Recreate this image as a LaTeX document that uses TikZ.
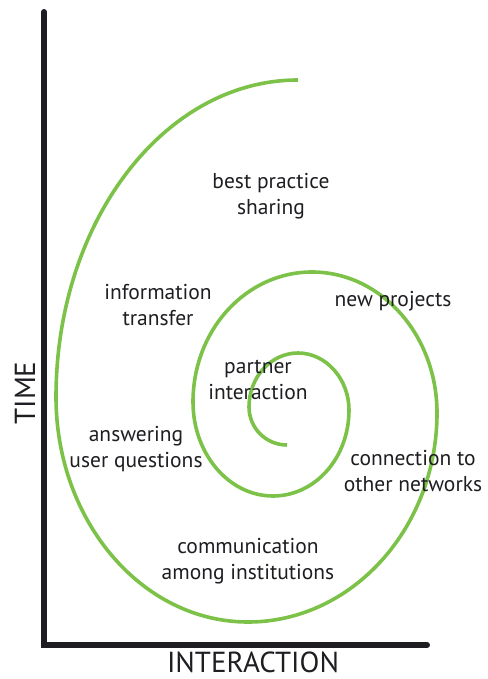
\documentclass[tikz,border=0pt]{standalone}
\usepackage{fontspec}
\setmainfont{PT Sans}
\definecolor{spiralgreen}{RGB}{124,194,72}
\definecolor{axisblack}{RGB}{30,30,34}
\begin{document}
\begin{tikzpicture}[x=1pt,y=-1pt,
  axisline/.style={line width=6pt,color=axisblack,line cap=round},
  spiralline/.style={line width=3.6pt,color=spiralgreen},
  lbl/.style={font=\fontsize{21.5}{26}\selectfont,align=center,text=axisblack,inner sep=0pt},
  axlbl/.style={font=\fontsize{29}{32}\selectfont,text=axisblack,inner sep=0pt}]
\useasboundingbox (0,0) rectangle (487,679);
% axes
\coordinate (top) at (44,12);
\coordinate (origin) at (44,645);
\coordinate (right) at (427,645);
\draw[axisline] (top) -- (origin) -- (right);
% spiral
\coordinate (s0) at (298,80);
\coordinate (s1) at (56,397);
\coordinate (s2) at (248,622);
\coordinate (s3) at (437,413);
\coordinate (s4) at (312,272);
\coordinate (s5) at (193,402);
\coordinate (s6) at (273,496);
\coordinate (s7) at (349,410);
\coordinate (s8) at (298,353);
\coordinate (s9) at (249,407);
\coordinate (s10) at (287,445);
\draw[spiralline] (s0)
  .. controls (164,80) and (56,222) .. (s1)
  .. controls (56,521) and (142,622) .. (s2)
  .. controls (352,622) and (437,528) .. (s3)
  .. controls (437,335) and (381,272) .. (s4)
  .. controls (246,272) and (193,330) .. (s5)
  .. controls (193,454) and (229,496) .. (s6)
  .. controls (315,496) and (349,458) .. (s7)
  .. controls (349,379) and (326,353) .. (s8)
  .. controls (271,353) and (249,377) .. (s9)
  .. controls (249,428) and (266,445) .. (s10);
% labels
\node[lbl] (best) at (271,196) {best practice\\sharing};
\node[lbl] (info) at (158,305) {information\\transfer};
\node[lbl] (newp) at (393,301) {new projects};
\node[lbl] (partner) at (258,380) {partner\\interaction};
\node[lbl] (answer) at (136,449) {answering\\user questions};
\node[lbl] (conn) at (413,471) {connection to\\other networks};
\node[lbl] (comm) at (248,561) {communication\\among institutions};
\node[axlbl] (interaction) at (253,662) {INTERACTION};
\node[axlbl,rotate=90] (time) at (25,393) {TIME};
\end{tikzpicture}
\end{document}
